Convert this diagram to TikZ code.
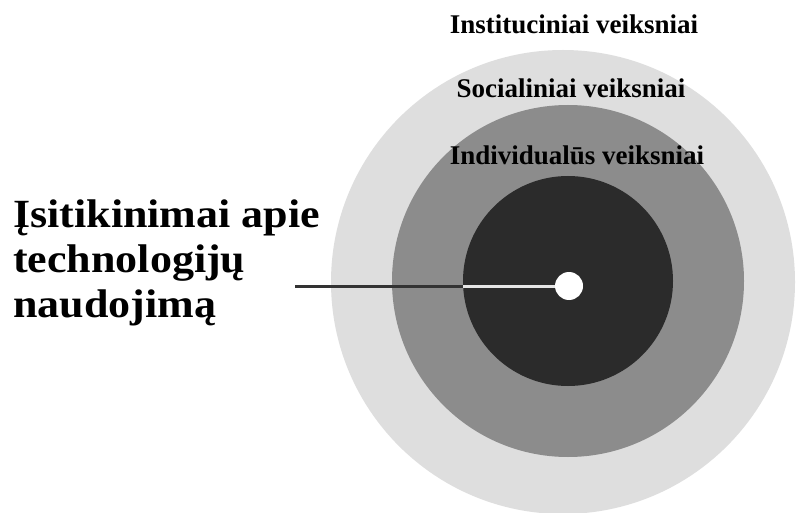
\documentclass[tikz,border=0pt]{standalone}
\usepackage{fontspec}
\setmainfont{Liberation Serif}
\newfontfamily\widefont[FakeStretch=1.1]{Liberation Serif}
\definecolor{outerc}{HTML}{DEDEDE}
\definecolor{midc}{HTML}{8C8C8C}
\definecolor{darkc}{HTML}{2B2B2B}
\definecolor{linec}{HTML}{333333}
\definecolor{linelight}{HTML}{E6E6E6}
\begin{document}
\begin{tikzpicture}[x=1pt,y=-1pt,
  ring/.style={circle, inner sep=0pt, draw=none},
  lbl/.style={anchor=base, inner sep=0pt, font=\fontsize{27}{30}\selectfont\bfseries, text=black},
  conn/.style={draw=linec, line width=3pt}]
\useasboundingbox (0,0) rectangle (798,513);
\fill[white] (0,0) rectangle (798,513);
\node[ring, fill=outerc, minimum size=464pt] (inst) at (563,282) {};
\node[ring, fill=midc, minimum size=352pt] (soc) at (568,281) {};
\node[ring, fill=darkc, minimum size=210pt] (ind) at (568,281) {};
\node[ring, fill=white, minimum size=28pt] (dot) at (569,286) {};
\node[lbl] (linst) at (574,34) {Instituciniai veiksniai};
\node[lbl] (lsoc) at (571,98) {Socialiniai veiksniai};
\node[lbl] (lind) at (577,165) {Individualūs veiksniai};
\node[anchor=base west, align=left, inner sep=0pt,
  font=\widefont\fontsize{40}{45}\selectfont\bfseries] (belief) at (13,317)
  {Įsitikinimai apie\\technologijų\\naudojimą};
\coordinate (lstart) at (295,286);
\coordinate (lmid) at (463,286);
\draw[conn] (lstart) -- (dot.west);
\draw[draw=linelight, line width=3pt] (lmid) -- (dot.west);
\end{tikzpicture}
\end{document}
